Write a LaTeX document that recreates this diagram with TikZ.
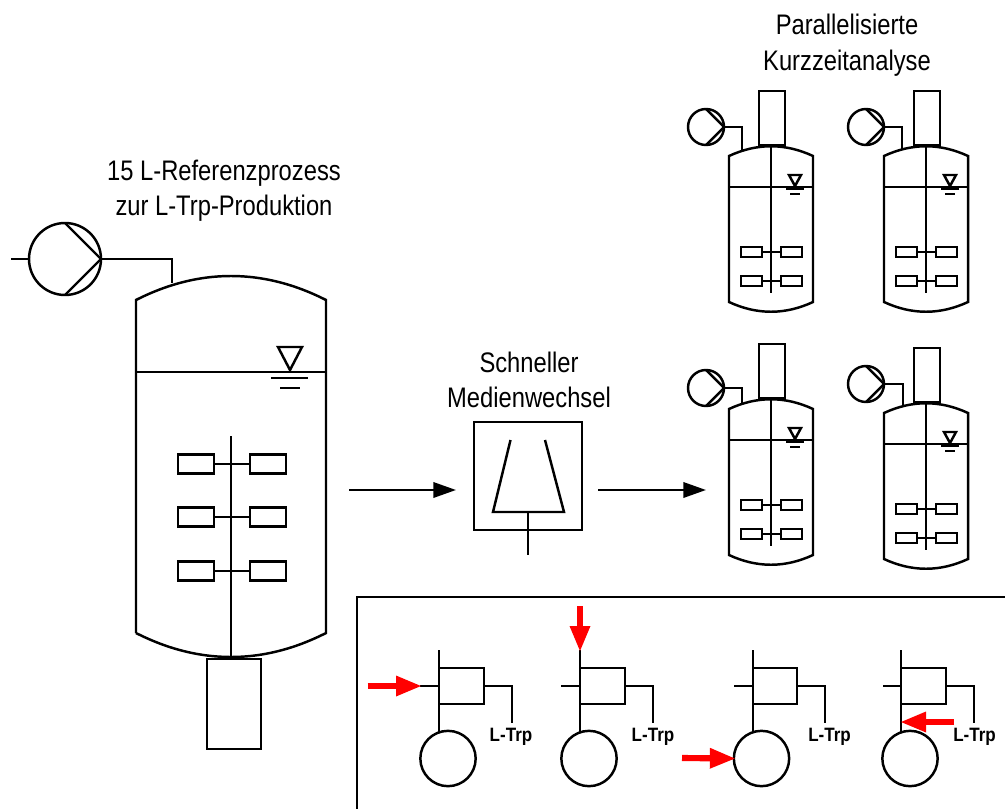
\documentclass[tikz,border=0pt]{standalone}
\usepackage{fontspec}
\setmainfont{Liberation Sans}
\newfontfamily\titlefont[FakeStretch=0.84]{Liberation Sans}
\newfontfamily\trpfont[FakeStretch=0.88]{Liberation Sans Bold}
\usetikzlibrary{arrows.meta}
\tikzset{
  line/.style={line width=1.85pt,line join=miter},
  thinline/.style={line width=1.1pt},
  box/.style={draw,line width=1.85pt,rectangle,inner sep=0pt,outer sep=0pt},
  bigpaddle/.style={box,minimum width=27pt,minimum height=14.25pt},
  smallpaddle/.style={box,minimum width=15.5pt,minimum height=7.5pt},
  pumpcircle/.style={draw,line width=1.85pt,circle,inner sep=0pt,outer sep=0pt},
  title/.style={font=\titlefont\fontsize{21.2}{26.6}\selectfont,align=center,inner sep=0pt},
  trp/.style={font=\trpfont\fontsize{14.5}{14.5}\selectfont,inner sep=0pt},
  flow/.style={line width=1.85pt,-{Triangle[length=17pt,width=11.5pt]}},
  redarrow/.style={draw=red,line width=4.6pt,shorten >=-1.5pt,-{Triangle[length=19.5pt,width=14.2pt,fill=red]}},
}
% #1 name, #2 vessel shift, #3 pump centre, #4 pump outlet x
\newcommand{\smallvessel}[4]{
  \begin{scope}[shift={#2}]
    \node[box,minimum width=19.5pt,minimum height=40.5pt] (#1motor) at (772,118) {};
    \coordinate (#1sl) at (729,156);
    \coordinate (#1sr) at (813,156);
    \coordinate (#1bl) at (729,302);
    \coordinate (#1br) at (813,302);
    \draw[line] (#1bl) -- (#1sl) .. controls (757,143) and (785,143) .. (#1sr) -- (#1br) .. controls (785,315) and (757,315) .. (#1bl) -- cycle;
    \draw[line] (729,187) -- (813,187);
    \coordinate (#1stop) at (771,145);
    \coordinate (#1send) at (771,293);
    \draw[line] (#1stop) -- (#1send);
    \node[smallpaddle] (#1a) at (751.5,252) {};
    \node[smallpaddle] (#1b) at (791.5,252) {};
    \node[smallpaddle] (#1c) at (751.5,281) {};
    \node[smallpaddle] (#1d) at (791.5,281) {};
    \draw[line] (#1a) -- (#1b);
    \draw[line] (#1c) -- (#1d);
    \draw[line] (789,175) -- (801,175) -- (795,186) -- cycle;
    \draw[line] (786,189) -- (804,189);
    \draw[line] (790,194) -- (800,194);
  \end{scope}
  \node[pumpcircle,minimum size=27pt] (#1pump) at #3 {};
  \draw[line] (#1pump.north) -- (#1pump.east) -- (#1pump.south);
  \coordinate (#1inlet) at (#4,150);
  \draw[thinline] (#1pump.east) -| ([shift={#2}]#1inlet);
}
% #1 name, #2 stem x, #3 rect right, #4 stub left, #5 elbow, #6 circle cx, #7 label x
\newcommand{\cellunit}[7]{
  \node[box,minimum height=27pt,minimum width={(#3-#2)*0.75pt}] (#1rect) at ({(#2+#3)/2},686) {};
  \coordinate (#1top) at (#2,650);
  \coordinate (#1stub) at (#4,686);
  \coordinate (#1stem) at (#2,686);
  \coordinate (#1elbow) at (#5,723);
  \node[pumpcircle,minimum width=40.5pt,minimum height=41.5pt] (#1tank) at (#6,758.5) {};
  \draw[line] (#1top) -- (#2,732);
  \draw[line] (#1stub) -- (#1stem);
  \draw[line] (#1rect.east) -| (#1elbow);
  \node[trp] (#1label) at (#7,737) {L-Trp};
}
\begin{document}
\begin{tikzpicture}[x=0.75pt,y=-0.75pt]
\useasboundingbox (0,0) rectangle (1005,809);
\begin{scope}
\clip (0,0) rectangle (1005,809);

% large vessel
\coordinate (sl) at (136,300);
\coordinate (sr) at (326,300);
\coordinate (bl) at (136,633);
\coordinate (br) at (326,633);
\draw[line] (bl) -- (sl) .. controls (199,268) and (263,268) .. (sr) -- (br) .. controls (263,665) and (199,665) .. (bl);
\coordinate (ll) at (136,372);
\coordinate (lr) at (326,372);
\draw[line] (ll) -- (lr);
\draw[line] (278,347) -- (302,347) -- (290,370) -- cycle;
\draw[line] (271,378) -- (308,378);
\draw[line] (280,388) -- (300,388);
\node[box,minimum width=40.5pt,minimum height=67.5pt] (motor) at (234,704) {};
\coordinate (stop) at (231,436);
\coordinate (send) at (231,659);
\draw[line] (stop) -- (send);
\foreach \n/\y in {a/464,b/517,c/571}{
  \node[bigpaddle] (\n l) at (196,\y) {};
  \node[bigpaddle] (\n r) at (268,\y) {};
  \draw[line] (\n l) -- (\n r);
}
\node[pumpcircle,minimum size=54pt] (pump) at (65,259) {};
\coordinate (pin) at (11,259);
\coordinate (vin) at (172,283);
\draw[line] (pump.north) -- (pump.east) -- (pump.south);
\draw[line] (pin) -- (pump.west);
\draw[line] (pump.east) -| (vin);
\node[title] (t1) at (224,190.5) {15 L-Referenzprozess\\zur L-Trp-Produktion};

% separator
\node[title] (t2) at (529,380) {Schneller\\Medienwechsel};
\node[box,minimum width=81pt,minimum height=81pt] (sep) at (528,476) {};
\coordinate (fa) at (510.5,440);
\coordinate (fb) at (493,512);
\coordinate (fc) at (564,512);
\coordinate (fd) at (545,440);
\coordinate (fs) at (528,512);
\coordinate (fe) at (528,555);
\draw[line] (fa) -- (fb) -- (fc) -- (fd);
\draw[line] (fs) -- (fe);
\coordinate (a1) at (349,490);
\coordinate (a2) at (456,490);
\coordinate (a3) at (598,490);
\coordinate (a4) at (706,490);
\draw[flow] (a1) -- (a2);
\draw[flow] (a3) -- (a4);

% small vessels
\node[title] (t3) at (847,45) {Parallelisierte\\Kurzzeitanalyse};
\smallvessel{v}{(0,0)}{(706,127)}{742}
\smallvessel{w}{(155,0)}{(866,127)}{747}
\smallvessel{x}{(0,253)}{(706,388)}{742}
\smallvessel{y}{(155,257)}{(866,384)}{748}

% panel
\coordinate (pa) at (1005,597);
\coordinate (pb) at (357,597);
\coordinate (pc) at (357,809);
\draw[line] (pa) -- (pb) -- (pc);
\cellunit{p}{439}{484}{420}{512}{448}{511}
\cellunit{q}{580}{625}{561}{653}{589}{653}
\cellunit{r}{753}{797}{734}{825}{761.5}{829.5}
\cellunit{s}{901}{946}{883}{974}{910}{974.5}
\coordinate (ra) at (367.5,686);
\coordinate (rb) at (580,606);
\coordinate (rc) at (682,758);
\coordinate (rd) at (954,722);
\draw[redarrow] (ra) -- (pstub);
\draw[redarrow] (rb) -- (qtop);
\draw[redarrow] (rc) -- (rtank.west);
\coordinate (rdt) at (902,722);
\draw[redarrow] (rd) -- (rdt);
\end{scope}
\end{tikzpicture}
\end{document}
